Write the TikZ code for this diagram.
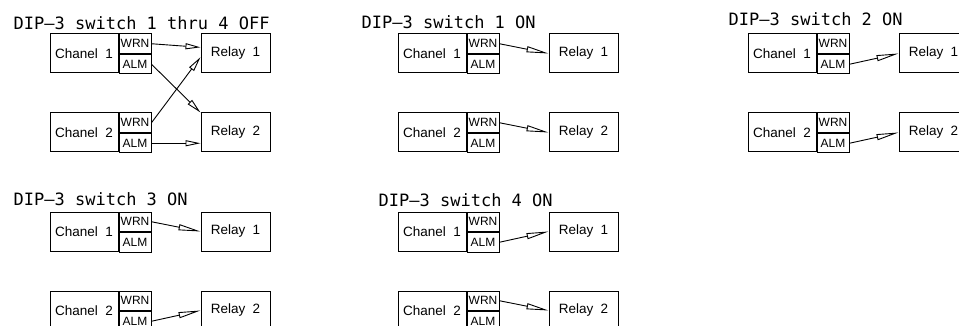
\documentclass[tikz,border=0pt]{standalone}
\usepackage{fontspec}
\setmainfont{Liberation Sans}
\newfontfamily\titlefont{DejaVu Sans Mono}
\usetikzlibrary{arrows.meta}
\newcommand{\gap}{\hspace{0.55em}}
\tikzset{
	boxnode/.style = {
		rectangle,
		draw=black,
		line width=1pt,
		inner sep=0pt,
		align=center,
		text centered,
		font=\fontsize{13.5}{13.5}\selectfont
	},
	node_ch/.style = {
		boxnode,
		minimum width=68pt,
		minimum height=39pt
	},
	node_rly/.style = {
		boxnode,
		minimum width=69pt,
		minimum height=39pt
	},
	node_cell/.style = {
		boxnode,
		anchor=north west,
		minimum width=32pt,
		minimum height=19.5pt,
		font=\fontsize{12}{12}\selectfont
	},
	node_title/.style = {
		anchor=base west,
		inner sep=0pt,
		font=\titlefont\fontsize{17}{17}\selectfont
	},
	link/.style = {
		-{Triangle[open,length=22pt,width=6pt]},
		line width=0.9pt
	},
	link_short/.style = {
		link,
		-{Triangle[open,length=15pt,width=6pt]}
	},
}

\begin{document}
\begin{tikzpicture}[x=1pt, y=-1pt]
\useasboundingbox (0,0) rectangle (959,326);
\clip (0,0) rectangle (959,326);

\node [node_title] (t_a) at (13.5,29.5) {DIP–3 switch 1 thru 4 OFF};
\node [node_title] (t_b) at (361.5,28.5) {DIP–3 switch 1 ON};
\node [node_title] (t_c) at (728.5,26) {DIP–3 switch 2 ON};
\node [node_title] (t_d) at (13.5,205) {DIP–3 switch 3 ON};
\node [node_title] (t_e) at (378.5,207) {DIP–3 switch 4 ON};

\foreach \p/\x/\y in {a/0/0, b/348/0, c/698/0, d/0/178, e/348/178} {
	\node [node_ch] (\p_ch1) at (\x+84,\y+53.5) {Chanel\gap1};
	\node [node_cell] (\p_wrn1) at (\p_ch1.north east) {WRN};
	\node [node_cell] (\p_alm1) at (\p_wrn1.south west) {ALM};
	\node [node_rly] (\p_rly1) at (\x+235.5,\y+53.5) {Relay\gap1};
	\node [node_ch] (\p_ch2) at (\x+84,\y+132.5) {Chanel\gap2};
	\node [node_cell] (\p_wrn2) at (\p_ch2.north east) {WRN};
	\node [node_cell] (\p_alm2) at (\p_wrn2.south west) {ALM};
	\node [node_rly] (\p_rly2) at (\x+235.5,\y+132.5) {Relay\gap2};
}

\draw [link_short] (a_wrn1.east) -- (a_rly1.170);
\draw [link_short] (a_alm1.east) -- (a_rly2.north west);
\draw [link_short] (a_wrn2.east) -- (a_rly1.186);
\draw [link_short] (a_alm2.east) -- (a_alm2.east -| a_rly2.west);

\draw [link] (b_wrn1.east) -- (b_rly1.west);
\draw [link] (b_wrn2.east) -- (b_rly2.west);

\draw [link] (c_alm1.east) -- (c_rly1.west);
\draw [link] (c_alm2.east) -- (c_rly2.west);

\draw [link] (d_wrn1.east) -- (d_rly1.west);
\draw [link] (d_alm2.east) -- (d_rly2.west);

\draw [link] (e_alm1.east) -- (e_rly1.west);
\draw [link] (e_wrn2.east) -- (e_rly2.west);
\end{tikzpicture}
\end{document}
